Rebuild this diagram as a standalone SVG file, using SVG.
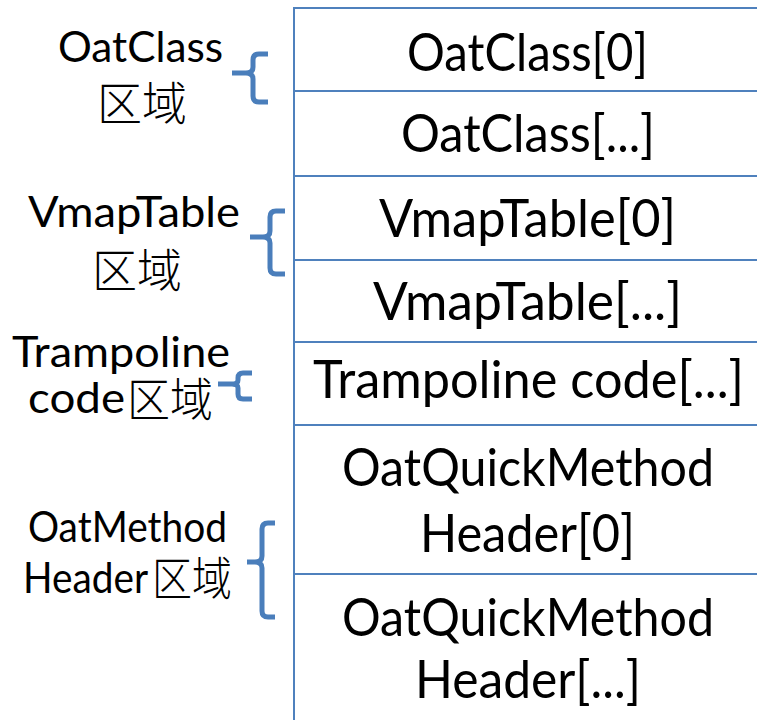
<svg xmlns="http://www.w3.org/2000/svg" width="757" height="720" viewBox="0 0 757 720">
  <style>
    .cell { font-family: Lato, "Open Sans", sans-serif; font-size: 52px; fill: #000; }
    .lbl { font-family: Lato, "Open Sans", sans-serif; font-size: 42px; fill: #000; }
    .cjk { font-family: "Noto Sans CJK SC", sans-serif; font-size: 46px; font-weight: 300; }
    .grid { stroke: #4f81bd; stroke-width: 2; fill: none; }
    .brace { stroke: #4a7ebb; stroke-width: 5; fill: none; stroke-linecap: butt; stroke-linejoin: round; }
  </style>
  <rect width="757" height="720" fill="#fff"/>

  <!-- memory layout table -->
  <g id="table">
    <line class="grid" x1="294" y1="8" x2="294" y2="720"/>
    <line class="grid" x1="293" y1="8" x2="757" y2="8"/>
    <line class="grid" x1="294" y1="91" x2="757" y2="91"/>
    <line class="grid" x1="294" y1="176" x2="757" y2="176" stroke-width="3"/>
    <line class="grid" x1="294" y1="260" x2="757" y2="260"/>
    <line class="grid" x1="294" y1="342" x2="757" y2="342" stroke-width="3"/>
    <line class="grid" x1="294" y1="425" x2="757" y2="425"/>
    <line class="grid" x1="294" y1="574" x2="757" y2="574"/>
  </g>

  <g id="cell-oatclass-0"><text class="cell" x="407" y="71" textLength="241" lengthAdjust="spacingAndGlyphs">OatClass[0]</text></g>
  <g id="cell-oatclass-n"><text class="cell" x="401" y="152" textLength="254" lengthAdjust="spacingAndGlyphs">OatClass[...]</text></g>
  <g id="cell-vmaptable-0"><text class="cell" x="379" y="237" textLength="297" lengthAdjust="spacingAndGlyphs">VmapTable[0]</text></g>
  <g id="cell-vmaptable-n"><text class="cell" x="373" y="320" textLength="309" lengthAdjust="spacingAndGlyphs">VmapTable[...]</text></g>
  <g id="cell-trampoline"><text class="cell" x="313" y="398" textLength="431" lengthAdjust="spacingAndGlyphs">Trampoline code[...]</text></g>
  <g id="cell-method-header-0">
    <text class="cell"><tspan x="342" y="486" textLength="372" lengthAdjust="spacingAndGlyphs">OatQuickMethod</tspan><tspan x="420" y="552" textLength="215" lengthAdjust="spacingAndGlyphs">Header[0]</tspan></text>
  </g>
  <g id="cell-method-header-n">
    <text class="cell"><tspan x="342" y="636" textLength="372" lengthAdjust="spacingAndGlyphs">OatQuickMethod</tspan><tspan x="415" y="698" textLength="226" lengthAdjust="spacingAndGlyphs">Header[...]</tspan></text>
  </g>

  <!-- region labels -->
  <g id="label-oatclass">
    <text class="lbl"><tspan x="58" y="62" textLength="165" lengthAdjust="spacingAndGlyphs">OatClass</tspan><tspan class="cjk" x="97" y="120" textLength="90" lengthAdjust="spacingAndGlyphs">区域</tspan></text>
  </g>
  <g id="label-vmaptable">
    <text class="lbl"><tspan x="28" y="227" textLength="212" lengthAdjust="spacingAndGlyphs">VmapTable</tspan><tspan class="cjk" x="92" y="287" textLength="90" lengthAdjust="spacingAndGlyphs">区域</tspan></text>
  </g>
  <g id="label-trampoline">
    <text class="lbl"><tspan x="12" y="367" textLength="218" lengthAdjust="spacingAndGlyphs">Trampoline</tspan><tspan x="28" y="413" textLength="97" lengthAdjust="spacingAndGlyphs">code</tspan><tspan class="cjk" x="127" y="416" textLength="86" lengthAdjust="spacingAndGlyphs">区域</tspan></text>
  </g>
  <g id="label-oatmethod">
    <text class="lbl"><tspan x="28" y="542" textLength="199" lengthAdjust="spacingAndGlyphs">OatMethod</tspan><tspan x="23" y="593" textLength="125" lengthAdjust="spacingAndGlyphs">Header</tspan><tspan class="cjk" x="152" y="595" textLength="80" lengthAdjust="spacingAndGlyphs">区域</tspan></text>
  </g>

  <!-- braces tying labels to table rows -->
  <g id="connectors">
    <path class="brace" d="M268,54 H259 Q253,54 253,60 V67 Q253,73 246,73 H232 M246,73 Q253,73 253,79 V96 Q253,102 259,102 H268"/>
    <path class="brace" d="M285,211 H276 Q270,211 270,217 V231 Q270,237 263,237 H250 M263,237 Q270,237 270,243 V268 Q270,274 276,274 H285"/>
    <path class="brace" d="M252,373 H243 Q238,373 238,378 V380 Q238,384 232,384 H218 M232,384 Q238,384 238,388 V394 Q238,399 243,399 H252"/>
    <path class="brace" d="M275,523 H268 Q262,523 262,529 V556 Q262,562 255,562 H247 M255,562 Q262,562 262,568 V611 Q262,617 268,617 H275"/>
  </g>
</svg>
